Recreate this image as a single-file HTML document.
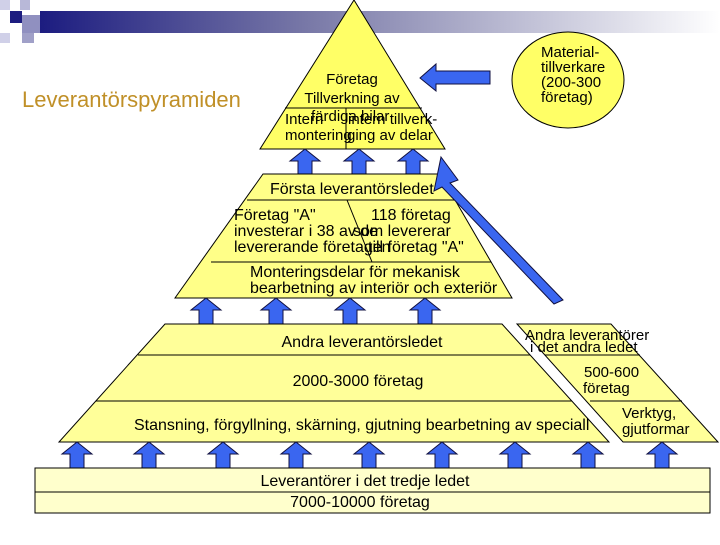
<!DOCTYPE html>
<html><head><meta charset="utf-8"><style>
body{margin:0;background:#fff}
svg text{font-family:"Liberation Sans",sans-serif;font-size:16px;fill:#000}
svg text.s{font-size:15px}
</style></head><body>
<svg width="720" height="540" viewBox="0 0 720 540" xmlns="http://www.w3.org/2000/svg">
<defs>
<linearGradient id="hg" x1="0" x2="1" y1="0" y2="0">
<stop offset="0" stop-color="#1c1c80"/><stop offset="0.4" stop-color="#7a7aa8"/><stop offset="1" stop-color="#ffffff"/>
</linearGradient>
<g id="ua"><polygon points="0,0 15,12 7,12 7,26 -7,26 -7,12 -15,12" fill="#3a66f0" stroke="#101040" stroke-width="1"/></g>
</defs>
<rect x="40" y="11" width="680" height="22" fill="url(#hg)"/>
<rect x="0" y="0" width="10" height="10" fill="#d0d0e8"/>
<rect x="20" y="0" width="10" height="10" fill="#b8b8d8"/>
<rect x="10" y="11" width="12" height="12" fill="#1c1c80"/>
<rect x="22" y="15" width="18" height="18" fill="#9090c0"/>
<rect x="0" y="33" width="10" height="10" fill="#d0d0e8"/>
<rect x="22" y="33" width="12" height="10" fill="#a0a0c8"/>
<text x="22" y="107" style="font-size:22px;fill:#c09028">Leverantörspyramiden</text>

<polygon points="354,0 445,149 260,149" fill="#ffff66" stroke="#000"/>
<line x1="285" y1="108" x2="422" y2="108" stroke="#000"/>
<line x1="346" y1="108" x2="346" y2="149" stroke="#000"/>
<text x="352" y="84" text-anchor="middle" class="s">Företag</text>
<text x="352" y="103" text-anchor="middle" class="s">Tillverkning av</text>
<text x="285" y="124" class="s">Intern</text><text x="311" y="121" class="s">färdiga bilar</text>
<text x="348" y="124" class="s">intern tillverk-</text>
<text x="285" y="140" class="s">montering</text><text x="347" y="140" class="s">ging av delar</text>

<ellipse cx="568" cy="80" rx="56" ry="48" fill="#ffff66" stroke="#000"/>
<text x="541" y="57" class="s">Material-</text><text x="541" y="72" class="s">tillverkare</text><text x="541" y="87" class="s">(200-300</text><text x="541" y="102" class="s">företag)</text>
<polygon points="420,78 436,64 436,71 490,71 490,84 436,84 436,91" fill="#3a66f0" stroke="#101040"/>

<use href="#ua" x="305" y="149"/><use href="#ua" x="359" y="149"/><use href="#ua" x="413" y="149"/>

<polygon points="263,174 440,174 512,298 175,298" fill="#ffff88" stroke="#000"/>
<line x1="247" y1="200" x2="455" y2="200" stroke="#000"/>
<line x1="347" y1="200" x2="372" y2="262" stroke="#000"/>
<line x1="211" y1="262" x2="491" y2="262" stroke="#000"/>
<text x="270" y="194">Första leverantörsledet</text>
<text x="234" y="220">Företag "A"</text><text x="371" y="220">118 företag</text>
<text x="234" y="236">investerar i 38 av de</text><text x="353" y="236">som levererar</text>
<text x="234" y="252">levererande företagen</text><text x="368" y="252">till företag "A"</text>
<text x="250" y="277">Monteringsdelar för mekanisk</text>
<text x="250" y="293">bearbetning av interiör och exteriör</text>

<polygon points="441,157 458,180 450,183 563,300 554,304 442,187 434,191" fill="#3a66f0" stroke="#101040"/>

<use href="#ua" x="206" y="298"/><use href="#ua" x="276" y="298"/><use href="#ua" x="350" y="298"/><use href="#ua" x="425" y="298"/>

<polygon points="165,324 502,324 609,442 59,442" fill="#ffff99" stroke="#000"/>
<line x1="138" y1="355" x2="530" y2="355" stroke="#000"/>
<line x1="96" y1="401" x2="572" y2="401" stroke="#000"/>
<text x="362" y="347" text-anchor="middle">Andra leverantörsledet</text>
<text x="358" y="386" text-anchor="middle">2000-3000 företag</text>
<svg x="0" y="400" width="608" height="42"><text x="134" y="30">Stansning, förgyllning, skärning, gjutning bearbetning av speciall</text></svg>

<polygon points="517,324 611,324 718,442 623,442" fill="#ffff99" stroke="#000"/>
<line x1="545" y1="355" x2="640" y2="355" stroke="#000"/>
<line x1="590" y1="401" x2="682" y2="401" stroke="#000"/>
<text x="525" y="340" class="s">Andra leverantörer</text><text x="530" y="352" class="s">i det andra ledet</text>
<text x="584" y="377" class="s">500-600</text><text x="583" y="393" class="s">företag</text>
<text x="622" y="418" class="s">Verktyg,</text><text x="622" y="434" class="s">gjutformar</text>

<use href="#ua" x="77" y="442"/><use href="#ua" x="149" y="442"/><use href="#ua" x="223" y="442"/><use href="#ua" x="296" y="442"/><use href="#ua" x="369" y="442"/><use href="#ua" x="442" y="442"/><use href="#ua" x="515" y="442"/><use href="#ua" x="588" y="442"/><use href="#ua" x="662" y="442"/>

<rect x="35" y="468" width="675" height="45" fill="#ffffcc" stroke="#000"/>
<line x1="35" y1="492" x2="710" y2="492" stroke="#000"/>
<text x="365" y="486" text-anchor="middle">Leverantörer i det tredje ledet</text>
<text x="360" y="507" text-anchor="middle">7000-10000 företag</text>
</svg>
</body></html>
